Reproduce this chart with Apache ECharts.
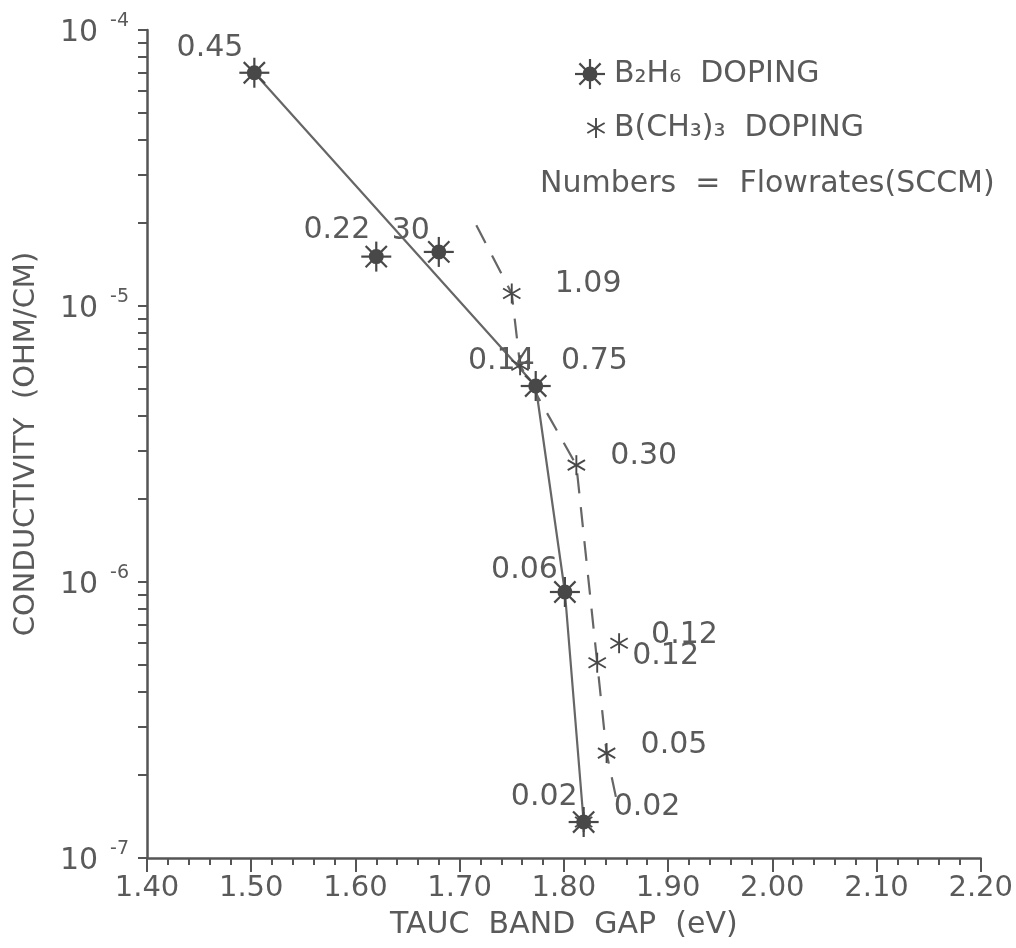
<!DOCTYPE html>
<html>
<head>
<meta charset="utf-8">
<script src="https://cdn.jsdelivr.net/npm/echarts@6/dist/echarts.min.js"></script>
<style>
  html, body { margin: 0; padding: 0; background: #ffffff; }
  #chart { width: 1016px; height: 948px; }
</style>
</head>
<body>
<div id="chart"></div>
<script>
// B2H6-doped films: Tauc band gap (eV), conductivity, flowrate tag
const b2h6Gap  = [1.503, 1.620, 1.680, 1.773, 1.801, 1.819];
const b2h6Cond = [7.0e-5, 1.51e-5, 1.57e-5, 5.13e-6, 9.2e-7, 1.35e-7];
const b2h6Flow = ['0.45', '0.22', '30', '0.14', '0.06', '0.02'];

// B(CH3)3-doped films
const tmbGap  = [1.750, 1.758, 1.812, 1.832, 1.853, 1.841, 1.819];
const tmbCond = [1.11e-5, 6.1e-6, 2.65e-6, 5.1e-7, 6.0e-7, 2.4e-7, 1.35e-7];
const tmbFlow = ['1.09', '0.75', '0.30', '0.12', '0.12', '0.05', '0.02'];

// Drawn trend curves
const solidTrendGap  = [1.503, 1.773, 1.801, 1.819];
const solidTrendCond = [7.0e-5, 5.13e-6, 9.2e-7, 1.35e-7];
const dashTrendGap  = [1.716, 1.750, 1.758, 1.812, 1.832, 1.841, 1.850];
const dashTrendCond = [1.96e-5, 1.11e-5, 6.1e-6, 2.65e-6, 5.1e-7, 2.4e-7, 1.66e-7];

// Axis ticks
const xMin = 1.40, xMax = 2.20, xStep = 0.10;
const yDecades = [-7, -6, -5, -4];
const yMinorMantissas = [2, 3, 4, 5, 6, 7, 8, 9];

// Label placement (pixel offsets from each marker)
const b2h6LabelOffset = [[-11, -25], [-6, -26], [-9, -21], [-1, -25], [-7, -22], [-6, -25]];
const tmbLabelOffset  = [[43, -9], [41, -4], [34, -9], [35, -7], [32, -8], [34, -8], [30, -15]];

const INK = '#484848';
const LINE = '#666666';
const TEXT = '#5a5a5a';
const FAMILY = '"DejaVu Sans", sans-serif';
const LABEL_FONT = '30px ' + FAMILY;

// Filled asterisk with eight spokes
function bigStar(cx, cy) {
  const parts = [{ type: 'circle', shape: { cx: cx, cy: cy, r: 7.5 }, style: { fill: INK } }];
  for (let k = 0; k < 8; k++) {
    const a = k * Math.PI / 4, c = Math.cos(a), s = Math.sin(a);
    parts.push({
      type: 'line',
      shape: { x1: cx + 6 * c, y1: cy + 6 * s, x2: cx + 15 * c, y2: cy + 15 * s },
      style: { stroke: INK, lineWidth: 2.2 }
    });
  }
  return parts;
}

// Thin six-armed asterisk
function smallStar(cx, cy) {
  const parts = [];
  [90, 30, 150].forEach(function (deg) {
    const a = deg * Math.PI / 180, c = Math.cos(a), s = Math.sin(a);
    parts.push({
      type: 'line',
      shape: { x1: cx - 10 * c, y1: cy - 10 * s, x2: cx + 10 * c, y2: cy + 10 * s },
      style: { stroke: INK, lineWidth: 1.9 }
    });
  });
  return parts;
}

function markerSeries(name, gaps, conds, tags, offsets, align, marker, z) {
  return {
    type: 'custom',
    name: name,
    coordinateSystem: 'cartesian2d',
    clip: false,
    z: z,
    data: gaps.map(function (g, i) { return [g, conds[i]]; }),
    renderItem: function (params, api) {
      const p = api.coord([api.value(0), api.value(1)]);
      const i = params.dataIndex;
      const o = offsets[i];
      return {
        type: 'group',
        children: marker(p[0], p[1]).concat([{
          type: 'text',
          style: {
            text: tags[i], x: p[0] + o[0], y: p[1] + o[1],
            font: LABEL_FONT, fill: TEXT,
            textAlign: align, textVerticalAlign: 'middle',
            align: align, verticalAlign: 'middle'
          }
        }])
      };
    }
  };
}

const minorTickExps = [];
yDecades.slice(0, -1).forEach(function (d) {
  yMinorMantissas.forEach(function (m) { minorTickExps.push(d + Math.log10(m)); });
});

const chart = echarts.init(document.getElementById('chart'), null, { renderer: 'canvas' });

chart.setOption({
  animation: false,
  backgroundColor: '#ffffff',
  grid: { left: 147, right: 33, top: 30, bottom: 90, containLabel: false },
  xAxis: {
    type: 'value',
    min: xMin, max: xMax, interval: xStep,
    name: 'TAUC  BAND  GAP  (eV)',
    nameLocation: 'middle',
    nameGap: 52,
    nameTextStyle: { fontFamily: FAMILY, fontSize: 30, color: TEXT },
    axisLine: { show: true, onZero: false, lineStyle: { color: '#555555', width: 2.5 } },
    axisTick: { show: true, inside: false, length: 14, lineStyle: { color: '#555555', width: 2 } },
    minorTick: { show: true, splitNumber: 5, length: 7, lineStyle: { color: '#555555', width: 2 } },
    axisLabel: {
      margin: 16, fontFamily: FAMILY, fontSize: 29, color: TEXT,
      formatter: function (v) { return v.toFixed(2); }
    },
    splitLine: { show: false },
    minorSplitLine: { show: false }
  },
  yAxis: [
    {
      type: 'log',
      logBase: 10,
      min: Math.pow(10, yDecades[0]),
      max: Math.pow(10, yDecades[yDecades.length - 1]),
      interval: 1,
      name: 'CONDUCTIVITY  (OHM/CM)',
      nameLocation: 'middle',
      nameGap: 106,
      nameRotate: 90,
      nameTextStyle: { fontFamily: FAMILY, fontSize: 29, color: TEXT },
      axisLine: { show: true, lineStyle: { color: '#555555', width: 2.5 } },
      axisTick: { show: true, inside: false, length: 9, lineStyle: { color: '#555555', width: 2 } },
      axisLabel: {
        margin: 18,
        formatter: function (v) {
          const e = Math.round(Math.log10(v));
          return '{b|10}{s|' + e + '}';
        },
        rich: {
          b: { fontFamily: FAMILY, fontSize: 30, color: TEXT, lineHeight: 36, verticalAlign: 'bottom' },
          s: { fontFamily: FAMILY, fontSize: 19, color: TEXT, lineHeight: 36, verticalAlign: 'top',
               padding: [0, 0, 0, 12] }
        }
      },
      splitLine: { show: false }
    },
    {
      // minor ticks at 2..9 x 10^n, placed on a linear exponent axis
      type: 'value',
      min: yDecades[0], max: yDecades[yDecades.length - 1],
      position: 'left',
      axisLine: { show: false },
      axisTick: { show: true, inside: false, length: 9, customValues: minorTickExps,
                  lineStyle: { color: '#555555', width: 2 } },
      axisLabel: { show: false },
      splitLine: { show: false }
    }
  ],
  series: [
    {
      type: 'line',
      name: 'B2H6 trend',
      data: solidTrendGap.map(function (g, i) { return [g, solidTrendCond[i]]; }),
      symbol: 'none',
      lineStyle: { color: LINE, width: 2.2, type: 'solid' },
      z: 2
    },
    {
      type: 'line',
      name: 'B(CH3)3 trend',
      data: dashTrendGap.map(function (g, i) { return [g, dashTrendCond[i]]; }),
      symbol: 'none',
      lineStyle: { color: LINE, width: 2.2, type: [20, 14] },
      z: 2
    },
    markerSeries('B(CH3)3 DOPING', tmbGap, tmbCond, tmbFlow, tmbLabelOffset, 'left', smallStar, 3),
    markerSeries('B2H6 DOPING', b2h6Gap, b2h6Cond, b2h6Flow, b2h6LabelOffset, 'right', bigStar, 4)
  ],
  graphic: [
    { type: 'group', children: bigStar(590, 74) },
    { type: 'text', x: 614, y: 74,
      style: { text: 'B₂H₆  DOPING', font: '30px ' + FAMILY, fill: TEXT,
               textVerticalAlign: 'middle', verticalAlign: 'middle' } },
    { type: 'group', children: smallStar(596, 128) },
    { type: 'text', x: 614, y: 128,
      style: { text: 'B(CH₃)₃  DOPING', font: '30px ' + FAMILY, fill: TEXT,
               textVerticalAlign: 'middle', verticalAlign: 'middle' } },
    { type: 'text', x: 540, y: 184,
      style: { text: 'Numbers  =  Flowrates(SCCM)', font: '30px ' + FAMILY, fill: TEXT,
               textVerticalAlign: 'middle', verticalAlign: 'middle' } }
  ]
});
</script>
</body>
</html>
